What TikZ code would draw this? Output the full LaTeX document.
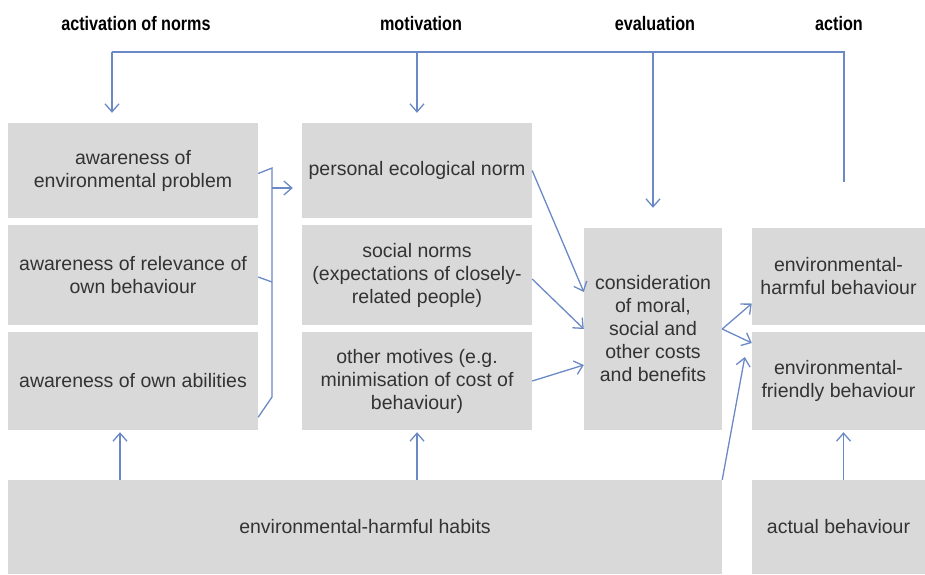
\documentclass[tikz,border=0pt]{standalone}
\usepackage{fontspec}
\setmainfont{Liberation Sans}
\newfontfamily\headfont[FakeStretch=0.83]{Liberation Sans}
\usetikzlibrary{arrows.meta}
\definecolor{boxgray}{HTML}{D9D9D9}
\definecolor{linkblue}{HTML}{6A89C5}
\definecolor{textgray}{HTML}{333333}

\begin{document}
\begin{tikzpicture}[x=1pt,y=-1pt,
  box/.style={fill=boxgray,text=textgray,align=center,inner sep=0pt,
    font=\fontsize{19.5}{23}\selectfont},
  head/.style={anchor=base,text=black,font=\headfont\bfseries\fontsize{19.5}{23}\selectfont},
  link/.style={draw=linkblue,line width=1.3pt},
  arr/.style={link,-{Straight Barb[length=8pt,width=14pt]}}]
\useasboundingbox (0,0) rectangle (925,574);

% stage headings
\node[head] (hact) at (136,30) {activation of norms};
\node[head] (hmot) at (421,30) {motivation};
\node[head] (heva) at (655,30) {evaluation};
\node[head] (hacn) at (839,30) {action};

% activation of norms
\node[box,minimum width=250,minimum height=95] (aep) at (133,170.5) {awareness of\\environmental problem};
\node[box,minimum width=250,minimum height=100] (arb) at (133,275) {awareness of relevance of\\own behaviour};
\node[box,minimum width=250,minimum height=98] (aoa) at (133,381) {awareness of own abilities};

% motivation
\node[box,minimum width=230,minimum height=95] (pen) at (417,170.5) {personal ecological norm};
\node[box,minimum width=230,minimum height=100] (sn) at (417,275) {social norms\\(expectations of closely-\\related people)};
\node[box,minimum width=230,minimum height=98] (om) at (417,381) {other motives (e.g.\\minimisation of cost of\\behaviour)};

% evaluation
\node[box,minimum width=138,minimum height=202] (cons) at (653,329) {consideration\\of moral,\\social and\\other costs\\and benefits};

% action
\node[box,minimum width=173,minimum height=97] (ehb) at (838.5,276.5) {environmental-\\harmful behaviour};
\node[box,minimum width=173,minimum height=98] (efb) at (838.5,381) {environmental-\\friendly behaviour};

% bottom row
\node[box,minimum width=714,minimum height=94] (hab) at (365,527) {environmental-harmful habits};
\node[box,minimum width=173,minimum height=94] (act) at (838.5,527) {actual behaviour};

% feedback from action
\coordinate (fb) at (844,182);
\coordinate (tr) at (844,52);
\coordinate (tl) at (112,52);
\draw[link] (fb) -- (tr) -- (tl);
\draw[arr,shorten >=10pt] (tl) -- (tl |- aep.north);
\draw[arr,shorten >=10pt] (tl -| pen) -- (pen.north);
\draw[arr,shorten >=20pt] (tl -| cons) -- (cons.north);

% bracket round the awareness boxes
\coordinate (bt) at (272,168);
\coordinate (bb) at (272,397);
\coordinate (bm) at (272,188);
\draw[link] ([yshift=-3]aep.east) -- (bt) -- (bb) -- ([yshift=13]aoa.south east);
\draw[link] ([yshift=-2]arb.east) -- (272,282);
\draw[arr,shorten >=9pt] (bm) -- (bm -| pen.west);

% into consideration
\draw[arr] (pen.east) -- ([yshift=37]cons.west);
\draw[arr] ([yshift=-4]sn.east) -- (cons.west);
\draw[arr] (om.east) -- ([yshift=-36]cons.west);

% out of consideration
\draw[arr] (cons.east) -- ([yshift=-27]ehb.west);
\draw[arr] (cons.east) -- ([yshift=38]efb.west);
\draw[arr] (hab.north east) -- ([xshift=-7,yshift=24]efb.west);

% habits upward
\draw[arr] ([xshift=-13]aoa.south |- hab.north) -- ([xshift=-13,yshift=-2]aoa.south);
\draw[arr] (om.south |- hab.north) -- ([yshift=-2]om.south);
\draw[arr] ([xshift=5]act.north) -- ([xshift=5,yshift=-2]efb.south);
\end{tikzpicture}
\end{document}
